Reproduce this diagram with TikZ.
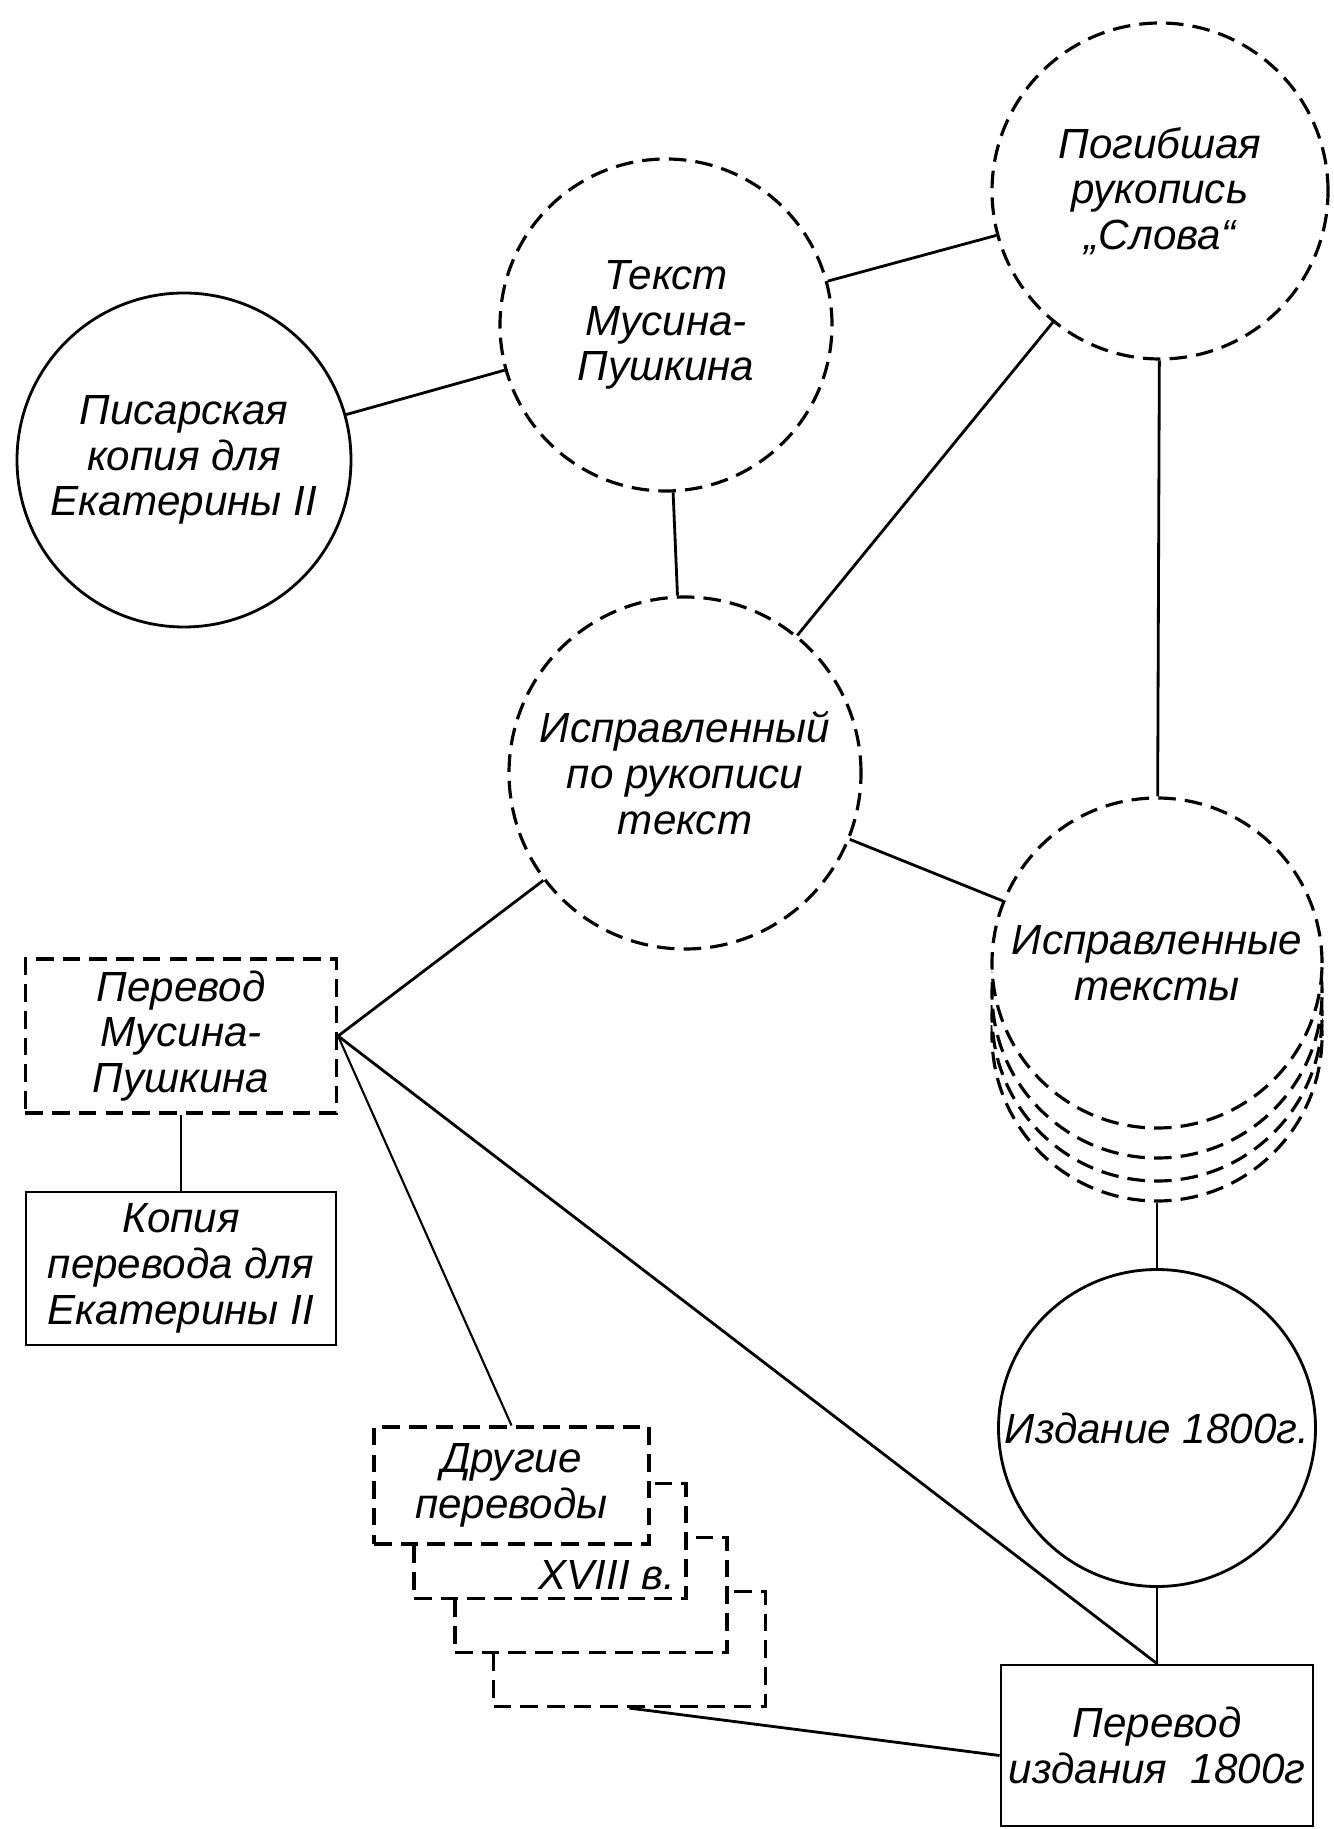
\documentclass[tikz,border=0pt]{standalone}
\usepackage{fontspec}
\setmainfont{Liberation Sans}
\usetikzlibrary{positioning}

\tikzset{
    krug/.style={circle,draw,line width=0.8pt,inner sep=0pt,align=center,font=\fontsize{12}{13}\selectfont\itshape},
    krugd/.style={krug,line width=0.9pt,dash pattern=on 5pt off 2.6pt,fill=white},
    blok/.style={rectangle,draw,line width=0.8pt,inner sep=0pt,align=center,font=\fontsize{12}{13}\selectfont\itshape},
    blokd/.style={blok,line width=0.9pt,dash pattern=on 5pt off 2.6pt,fill=white}
}

\begin{document}
\begin{tikzpicture}[
                x=1mm,y=1mm,
                line width=0.8pt] %

\useasboundingbox (0,0) rectangle (133.3,-182.9);

% circles


                    % 1
                    \node[krug,minimum size=33.4mm] (PISAR) at (18.4,-46.0) {Писарская\\копия для\\Екатерины II};

                    % 2
                    \node[krugd,minimum size=33.2mm] (TEKST) at (66.6,-32.5) {Текст\\Мусина-\\Пушкина};

                    % 3
                    \node[krugd,minimum size=33.6mm] (POGIB) at (116.0,-19.1) {Погибшая\\рукопись\\„Слова“};

                    % 4
                    \node[krugd,minimum size=35.2mm] (ISPRT) at (68.5,-77.3) {Исправленный\\по рукописи\\текст};

                    % 5 (stack, back to front)
                    \node[krugd,minimum size=33mm] (ISPRS3) at (115.7,-103.6) {};
                    \node[krugd,minimum size=33mm] (ISPRS2) at (115.7,-101.6) {};
                    \node[krugd,minimum size=33mm] (ISPRS1) at (115.7,-99.3) {};
                    \node[krugd,minimum size=33mm] (ISPRS) at (115.7,-96.3) {Исправленные\\тексты};

                    % 6
                    \node[krug,minimum size=31.7mm] (IZD) at (115.7,-142.8) {Издание 1800г.};


% boxes


                    % 7
                    \node[blokd,minimum width=31.1mm,minimum height=15.4mm] (PERMP) at (18.1,-103.6) {Перевод\\Мусина-\\Пушкина};

                    % 8
                    \node[blok,minimum width=31mm,minimum height=15.3mm] (KOPIA) at (18.1,-126.85) {Копия\\перевода для\\Екатерины II};

                    % 9 (stack, back to front)
                    \node[blokd,minimum width=27.2mm,minimum height=11.5mm] (DRUG4) at (62.95,-164.9) {};
                    \node[blokd,minimum width=27.2mm,minimum height=11.5mm] (DRUG3) at (59.1,-159.5) {};
                    \node[blokd,minimum width=27.2mm,minimum height=11.5mm] (DRUG2) at (55.0,-154.1) {};
                    \node[blok,draw=none,anchor=south east] (VEK) at ([xshift=-1.1mm,yshift=0.9mm]DRUG2.south east) {XVIII в.};
                    \node[blokd,minimum width=27.5mm,minimum height=11.7mm] (DRUG) at (51.15,-148.55) {Другие\\переводы};

                    % 10
                    \node[blok,minimum width=31.2mm,minimum height=16.1mm] (PERIZD) at (115.7,-174.55) {Перевод\\издания~~1800г};


% connections

                    \path [black] (PISAR) edge (TEKST);
                    \path [black] (TEKST) edge (POGIB);
                    \path [black] (TEKST) edge (ISPRT);
                    \path [black] (POGIB) edge (ISPRT);
                    \path [black] (POGIB) edge (ISPRS);
                    \path [black] (ISPRT) edge (ISPRS);
                    \path [black] (ISPRS3.south) edge (IZD.north);
                    \path [black] (IZD.south) edge (PERIZD.north);
                    \path [black] (PERMP.east) edge (ISPRT);
                    \path [black] (PERMP.south) edge (KOPIA.north);
                    \path [line width=0.6pt] (PERMP.east) edge (DRUG.north);
                    \path [black] (PERMP.east) edge (PERIZD.north);
                    \path [black] (DRUG4.south) edge ([yshift=-1mm]PERIZD.west);


\end{tikzpicture}
\end{document}
